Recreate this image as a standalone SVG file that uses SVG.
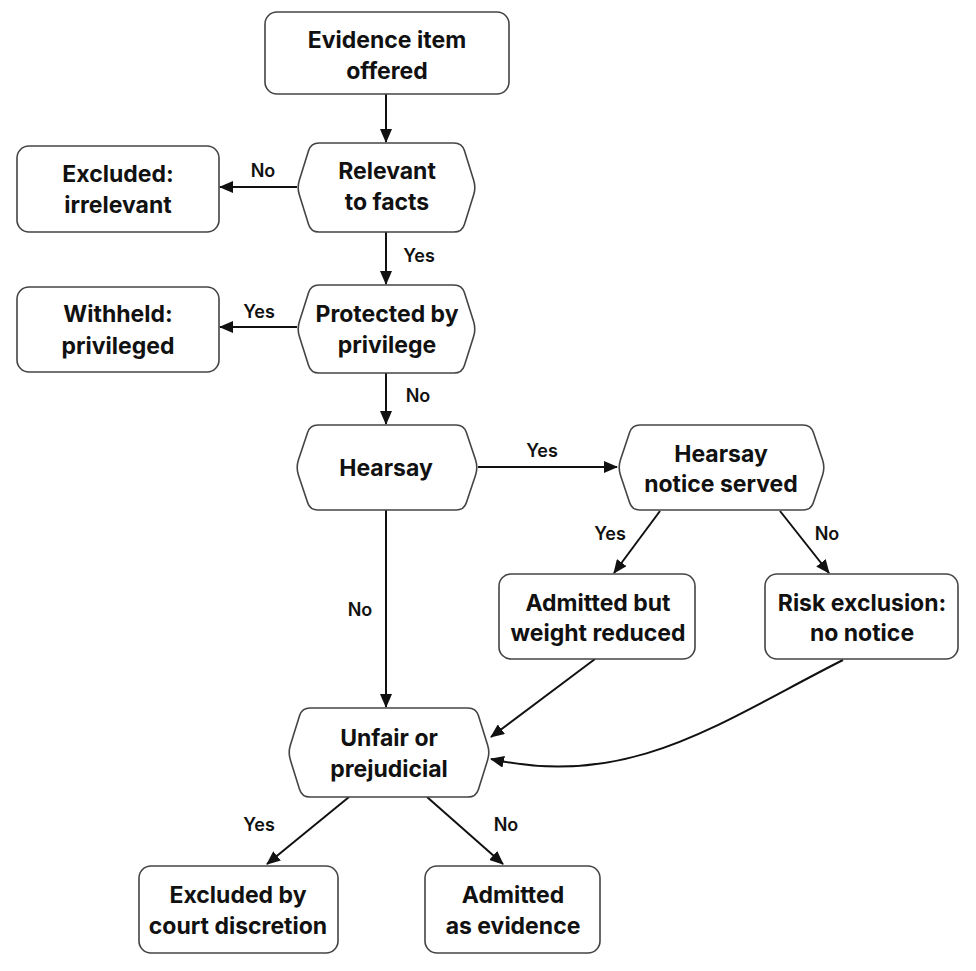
<svg xmlns="http://www.w3.org/2000/svg" width="976" height="971" viewBox="0 0 976 971">
<style>
.n{fill:#fff;stroke:#444;stroke-width:1.6}
.t{font-family:Inter,"Liberation Sans",sans-serif;font-weight:700;font-size:23px;fill:#111;text-anchor:middle}
.l{font-family:Inter,"Liberation Sans",sans-serif;font-weight:600;font-size:18px;fill:#111;text-anchor:middle}
.e{fill:none;stroke:#111;stroke-width:2}
</style>
<defs>
<marker id="a" markerUnits="userSpaceOnUse" markerWidth="14" markerHeight="12" refX="13" refY="6" orient="auto">
<path d="M0 0 L14 6 L0 12 Z" fill="#111"/>
</marker>
</defs>
<rect width="976" height="971" fill="#fff"/>
<g id="edges">
<path class="e" d="M386 94 L386 142" marker-end="url(#a)"/>
<path class="e" d="M297 187 L220 187" marker-end="url(#a)"/>
<text class="l" x="263" y="177">No</text>
<path class="e" d="M386 232 L386 284" marker-end="url(#a)"/>
<text class="l" x="419" y="262">Yes</text>
<path class="e" d="M297 327 L220 327" marker-end="url(#a)"/>
<text class="l" x="259" y="318">Yes</text>
<path class="e" d="M386 373 L386 424" marker-end="url(#a)"/>
<text class="l" x="418" y="402">No</text>
<path class="e" d="M478 467 L617 467" marker-end="url(#a)"/>
<text class="l" x="542" y="457">Yes</text>
<path class="e" d="M660 511 L614 573" marker-end="url(#a)"/>
<text class="l" x="610" y="540">Yes</text>
<path class="e" d="M780 511 L829 573" marker-end="url(#a)"/>
<text class="l" x="827" y="540">No</text>
<path class="e" d="M386 510 L386 707" marker-end="url(#a)"/>
<text class="l" x="360" y="616">No</text>
<path class="e" d="M595 659 L491 737" marker-end="url(#a)"/>
<path class="e" d="M843 660 C720 722 630 790 491 759" marker-end="url(#a)"/>
<path class="e" d="M349 797 L267 864" marker-end="url(#a)"/>
<text class="l" x="259" y="831">Yes</text>
<path class="e" d="M427 797 L503 864" marker-end="url(#a)"/>
<text class="l" x="506" y="831">No</text>
</g>
<g id="n1">
<rect class="n" x="265" y="12" width="244" height="82" rx="12"/>
<text class="t" x="387" y="48">Evidence item</text>
<text class="t" x="387" y="79">offered</text>
</g>
<g id="n2">
<path class="n" d="M319 143 L454 143 Q462 143 464.4 150.6 L473.6 179.9 Q476 187.5 473.6 195.1 L464.4 224.4 Q462 232 454 232 L319 232 Q311 232 308.6 224.4 L299.4 195.1 Q297 187.5 299.4 179.9 L308.6 150.6 Q311 143 319 143 Z"/>
<text class="t" x="387" y="179">Relevant</text>
<text class="t" x="387" y="210">to facts</text>
</g>
<g id="n3">
<rect class="n" x="17" y="146" width="202" height="86" rx="12"/>
<text class="t" x="118" y="182">Excluded:</text>
<text class="t" x="118" y="213">irrelevant</text>
</g>
<g id="n4">
<path class="n" d="M319 285 L454 285 Q462 285 464.4 292.6 L473.6 321.4 Q476 329 473.6 336.6 L464.4 365.4 Q462 373 454 373 L319 373 Q311 373 308.6 365.4 L299.4 336.6 Q297 329 299.4 321.4 L308.6 292.6 Q311 285 319 285 Z"/>
<text class="t" x="387" y="322">Protected by</text>
<text class="t" x="387" y="353">privilege</text>
</g>
<g id="n5">
<rect class="n" x="17" y="287" width="202" height="85" rx="12"/>
<text class="t" x="118" y="322">Withheld:</text>
<text class="t" x="118" y="354">privileged</text>
</g>
<g id="n6">
<path class="n" d="M318 425 L456 425 Q464 425 466.4 432.6 L475.6 459.9 Q478 467.5 475.6 475.1 L466.4 502.4 Q464 510 456 510 L318 510 Q310 510 307.6 502.4 L298.4 475.1 Q296 467.5 298.4 459.9 L307.6 432.6 Q310 425 318 425 Z"/>
<text class="t" x="386" y="476">Hearsay</text>
</g>
<g id="n7">
<path class="n" d="M640 425 L803 425 Q811 425 813.4 432.6 L822.6 459.9 Q825 467.5 822.6 475.1 L813.4 502.4 Q811 510 803 510 L640 510 Q632 510 629.6 502.4 L620.4 475.1 Q618 467.5 620.4 459.9 L629.6 432.6 Q632 425 640 425 Z"/>
<text class="t" x="721" y="462">Hearsay</text>
<text class="t" x="721" y="492">notice served</text>
</g>
<g id="n8">
<rect class="n" x="499" y="574" width="196" height="85" rx="12"/>
<text class="t" x="598" y="611">Admitted but</text>
<text class="t" x="598" y="641">weight reduced</text>
</g>
<g id="n9">
<rect class="n" x="765" y="574" width="193" height="85" rx="12"/>
<text class="t" x="862" y="611">Risk exclusion:</text>
<text class="t" x="862" y="641">no notice</text>
</g>
<g id="n10">
<path class="n" d="M310 708 L468 708 Q476 708 478.4 715.6 L487.6 744.9 Q490 752.5 487.6 760.1 L478.4 789.4 Q476 797 468 797 L310 797 Q302 797 299.6 789.4 L290.4 760.1 Q288 752.5 290.4 744.9 L299.6 715.6 Q302 708 310 708 Z"/>
<text class="t" x="389" y="746">Unfair or</text>
<text class="t" x="389" y="777">prejudicial</text>
</g>
<g id="n11">
<rect class="n" x="139" y="866" width="199" height="87" rx="12"/>
<text class="t" x="238" y="903">Excluded by</text>
<text class="t" x="238" y="934">court discretion</text>
</g>
<g id="n12">
<rect class="n" x="425" y="866" width="175" height="87" rx="12"/>
<text class="t" x="513" y="903">Admitted</text>
<text class="t" x="513" y="934">as evidence</text>
</g>
</svg>
